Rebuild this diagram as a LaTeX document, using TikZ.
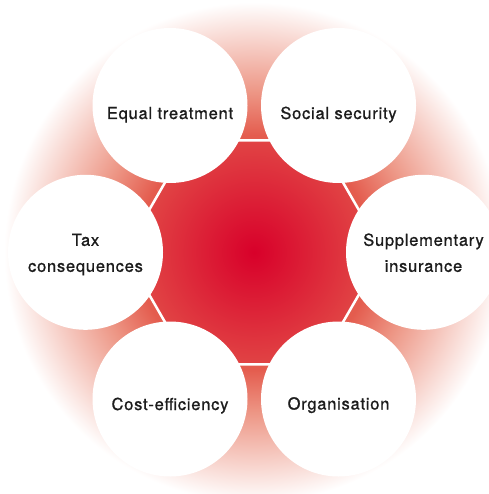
\documentclass[tikz,border=0pt]{standalone}
\usepackage{fontspec}
\setmainfont{TeX Gyre Heros}[LetterSpace=4.6,FakeBold=0.9]
\definecolor{glowA}{RGB}{228,92,78}
\definecolor{glowB}{RGB}{237,150,133}
\definecolor{coreA}{RGB}{216,0,42}
\definecolor{coreB}{RGB}{226,78,72}
\definecolor{labtext}{RGB}{28,28,28}
\pgfdeclareradialshading{glowshade}{\pgfpointorigin}{color(0bp)=(glowA); color(11.7bp)=(glowA); color(16bp)=(glowB); color(25bp)=(white); color(50bp)=(white)}
\pgfdeclareradialshading{coreshade}{\pgfpointorigin}{color(0bp)=(coreA); color(25bp)=(coreB); color(50bp)=(coreB)}
\begin{document}
\begin{tikzpicture}[x=1pt,y=-1pt,
  bub/.style={circle, fill=white, minimum size=155pt, inner sep=0pt},
  lab/.style={anchor=base, inner sep=0pt, text=labtext, font=\fontsize{16.5}{26}\selectfont},
  hexpath/.style={shift={(o)}}]
\useasboundingbox (0,0) rectangle (488,494);
\coordinate (o) at (254,252.3);
% outer glow
\shade[shading=glowshade] (o) circle[radius=250pt];
% red hexagon core
\begin{scope}
  \clip[hexpath] (0:129.3) -- (60:129.3) -- (120:129.3) -- (180:129.3) -- (240:129.3) -- (300:129.3) -- cycle;
  \shade[shading=coreshade] (o) circle[radius=129.3pt];
\end{scope}
\draw[hexpath, white, line width=2.5pt, line join=miter] (0:129.3) -- (60:129.3) -- (120:129.3) -- (180:129.3) -- (240:129.3) -- (300:129.3) -- cycle;
% circles
\node[bub] (c1) at (170,105.5) {};
\node[bub] (c2) at (338.5,105.5) {};
\node[bub] (c3) at (423.5,252.3) {};
\node[bub] (c4) at (338.5,399) {};
\node[bub] (c5) at (170,399) {};
\node[bub] (c6) at (85.5,252.3) {};
% labels
\node[lab] (t1) at ([yshift=-13.5pt]c1.center) {Equal treatment};
\node[lab] (t2) at ([yshift=-13.5pt]c2.center) {Social security};
\node[lab] (t3) at ([yshift=6.5pt]c3.center) {\begin{tabular}[t]{@{}c@{}}Supplementary\\insurance\end{tabular}};
\node[lab] (t4) at ([yshift=-10.5pt]c4.center) {Organisation};
\node[lab] (t5) at ([yshift=-11pt]c5.center) {Cost-efficiency};
\node[lab] (t6) at ([yshift=6.5pt]c6.center) {\begin{tabular}[t]{@{}c@{}}Tax\\consequences\end{tabular}};
\end{tikzpicture}
\end{document}
